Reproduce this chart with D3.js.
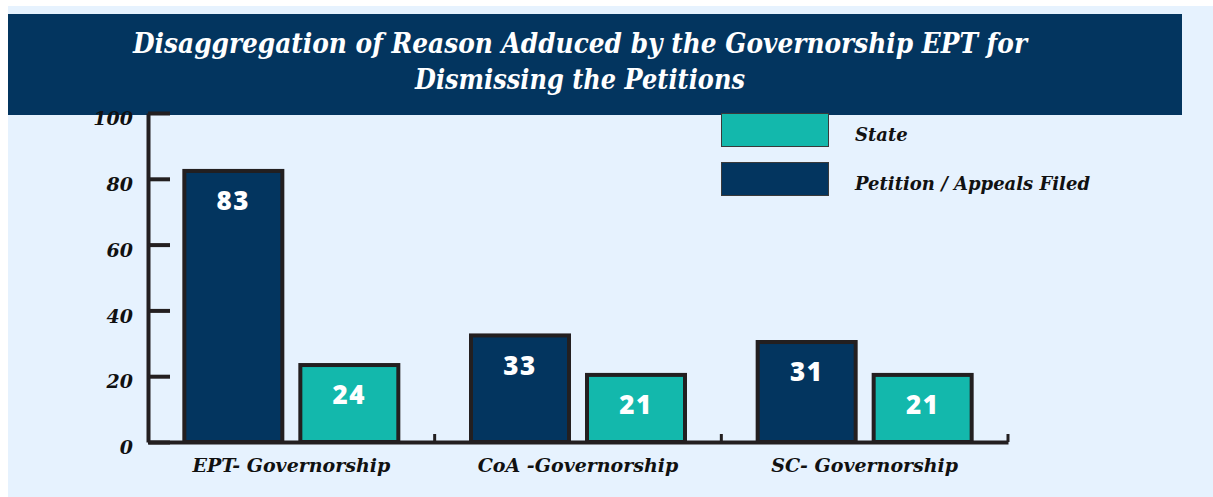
<!DOCTYPE html>
<html>
<head>
<meta charset="utf-8">
<script src="https://cdn.jsdelivr.net/npm/d3@7"></script>
<style>
  html, body { margin: 0; padding: 0; background: #ffffff; }
  svg { display: block; }
</style>
</head>
<body>
<svg id="chart" width="1213" height="497"></svg>
<script>
// Courts and the two counted series
const categories = ["EPT- Governorship", "CoA -Governorship", "SC- Governorship"];
const seriesNames = ["Petition / Appeals Filed", "State"];
const petitionsFiled = [83, 33, 31];
const stateValues = [24, 21, 21];
const yTicks = [0, 20, 40, 60, 80, 100];
const legendOrder = ["State", "Petition / Appeals Filed"];
const titleLines = [
  "Disaggregation of Reason Adduced by the Governorship EPT for",
  "Dismissing the Petitions"
];

const NAVY = "#03355f";
const TEAL = "#13b8ac";
const INK = "#231f20";
const PANEL = "#e6f2fe";
const serif = "'DejaVu Serif', 'Liberation Serif', serif";

const colors = d3.scaleOrdinal().domain(seriesNames).range([NAVY, TEAL]);

const rows = categories.map((c, i) => ({
  category: c,
  values: [
    { series: seriesNames[0], value: petitionsFiled[i] },
    { series: seriesNames[1], value: stateValues[i] }
  ]
}));

const svg = d3.select("#chart");

// light panel and title banner
svg.append("rect").attr("x", 8).attr("y", 6).attr("width", 1205).attr("height", 491).attr("fill", PANEL);
svg.append("rect").attr("x", 8).attr("y", 14).attr("width", 1174).attr("height", 101).attr("fill", NAVY);

const title = svg.append("g");
const titleWidths = [894, 330];
titleLines.forEach((t, i) => {
  title.append("text")
    .attr("x", 580).attr("y", 53 + i * 36)
    .attr("text-anchor", "middle")
    .attr("fill", "#ffffff")
    .attr("font-family", serif)
    .attr("font-style", "italic")
    .attr("font-weight", "bold")
    .attr("font-size", 27)
    .attr("textLength", titleWidths[i])
    .attr("lengthAdjust", "spacingAndGlyphs")
    .text(t);
});

// scales
const x0 = d3.scaleBand().domain(categories).range([148, 1008]).paddingInner(0).paddingOuter(0);
const x1 = d3.scaleBand().domain(seriesNames).range([0, x0.bandwidth()]).paddingInner(0.1207).paddingOuter(0.296);
const y = d3.scaleLinear().domain([0, 100]).range([442, 113]);

// y axis with ticks pointing into the plot
const yAxis = svg.append("g")
  .attr("transform", "translate(148,0)")
  .call(d3.axisLeft(y).tickValues(yTicks).tickSizeInner(-22).tickSizeOuter(0).tickPadding(15));
yAxis.select(".domain").attr("stroke", INK).attr("stroke-width", 4);
yAxis.selectAll(".tick line").attr("stroke", INK).attr("stroke-width", 4);
yAxis.selectAll(".tick text")
  .attr("fill", "#111")
  .attr("dy", "0.62em")
  .attr("font-family", serif)
  .attr("font-style", "italic")
  .attr("font-weight", "bold")
  .attr("font-size", 19);

// bars, stroke kept inside each band
const sw = 4;
const groups = svg.append("g").selectAll("g")
  .data(rows).join("g")
  .attr("transform", d => `translate(${x0(d.category)},0)`);

groups.selectAll("rect")
  .data(d => d.values).join("rect")
  .attr("x", d => x1(d.series) + sw / 2)
  .attr("y", d => y(d.value) + sw / 2)
  .attr("width", x1.bandwidth() - sw)
  .attr("height", d => y(0) - y(d.value) - sw / 2)
  .attr("fill", d => colors(d.series))
  .attr("stroke", INK)
  .attr("stroke-width", sw);

groups.selectAll("text.val")
  .data(d => d.values).join("text")
  .attr("class", "val")
  .attr("x", d => x1(d.series) + x1.bandwidth() / 2)
  .attr("y", d => y(d.value) + 32)
  .attr("dy", "0.35em")
  .attr("text-anchor", "middle")
  .attr("fill", "#ffffff")
  .attr("font-family", "'Open Sans', Inter, sans-serif")
  .attr("font-weight", 800)
  .attr("font-size", 26)
  .attr("letter-spacing", 1.5)
  .text(d => d.value);

// x axis: baseline, group separators, category labels
const xAxis = svg.append("g")
  .attr("transform", `translate(0,${y(0)})`)
  .call(d3.axisBottom(x0).tickSize(0).tickPadding(17));
xAxis.select(".domain").attr("stroke", INK).attr("stroke-width", 4);
xAxis.selectAll(".tick text")
  .attr("fill", "#111")
  .attr("font-family", serif)
  .attr("font-style", "italic")
  .attr("font-weight", "bold")
  .attr("font-size", 19);
xAxis.selectAll("line.sep")
  .data(categories).join("line")
  .attr("class", "sep")
  .attr("x1", d => x0(d) + x0.bandwidth()).attr("x2", d => x0(d) + x0.bandwidth())
  .attr("y1", 0).attr("y2", -8)
  .attr("stroke", INK).attr("stroke-width", 3);

// legend
const legend = svg.append("g").attr("transform", "translate(721,113)");
const li = legend.selectAll("g").data(legendOrder).join("g")
  .attr("transform", (d, i) => `translate(0,${i * 49})`);
li.append("rect")
  .attr("x", 0.5).attr("y", 0.5).attr("width", 107).attr("height", 33)
  .attr("fill", d => colors(d))
  .attr("stroke", "#3a3a3a").attr("stroke-width", 1);
li.append("text")
  .attr("x", 134).attr("y", 28)
  .attr("fill", "#111")
  .attr("font-family", serif)
  .attr("font-style", "italic")
  .attr("font-weight", "bold")
  .attr("font-size", 18)
  .text(d => d);
</script>
</body>
</html>
